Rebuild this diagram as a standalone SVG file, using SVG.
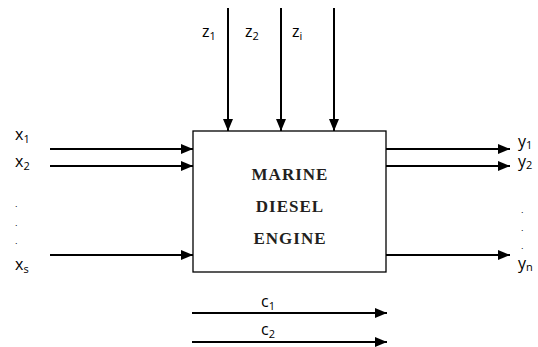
<svg xmlns="http://www.w3.org/2000/svg" width="538" height="347" viewBox="0 0 538 347">
<style>
.lbl{font-family:"Open Sans","Liberation Sans",sans-serif;font-size:16px;fill:#000}
.sub{font-size:11px}
.dot{font-family:"Liberation Sans",sans-serif;font-size:9px;fill:#000}
.eng{font-family:"Liberation Serif",serif;font-size:17px;font-weight:bold;fill:#231f20;letter-spacing:1px}
.ar{stroke:#000;stroke-width:2;fill:none;marker-end:url(#ah)}
</style>
<defs>
<marker id="ah" viewBox="0 0 12 10" refX="12" refY="5" markerWidth="12" markerHeight="10" markerUnits="userSpaceOnUse" orient="auto">
<path d="M0,0 L12,5 L0,10 Z" fill="#000"/>
</marker>
</defs>
<g id="connectors">
<line class="ar" x1="50" y1="149" x2="193" y2="149"/>
<line class="ar" x1="50" y1="166" x2="193" y2="166"/>
<line class="ar" x1="50" y1="255" x2="193" y2="255"/>
<line class="ar" x1="386" y1="149" x2="510" y2="149"/>
<line class="ar" x1="386" y1="166" x2="510" y2="166"/>
<line class="ar" x1="386" y1="255" x2="510" y2="255"/>
<line class="ar" x1="228" y1="8" x2="228" y2="131"/>
<line class="ar" x1="281" y1="8" x2="281" y2="131"/>
<line class="ar" x1="334" y1="8" x2="334" y2="131"/>
<line class="ar" x1="192" y1="313" x2="387" y2="313"/>
<line class="ar" x1="192" y1="342" x2="387" y2="342"/>
</g>
<g id="engine">
<rect x="193" y="131" width="193" height="141" fill="#fff" stroke="#000" stroke-width="1.3"/>
<text class="eng" x="290" y="180" text-anchor="middle">MARINE</text>
<text class="eng" x="290" y="212" text-anchor="middle">DIESEL</text>
<text class="eng" x="290" y="244" text-anchor="middle">ENGINE</text>
</g>
<g id="labels">
<text class="lbl" x="15" y="140">x<tspan class="sub" dy="3">1</tspan></text>
<text class="lbl" x="15" y="167">x<tspan class="sub" dy="3">2</tspan></text>
<text class="dot" x="15" y="207">.</text>
<text class="dot" x="15" y="226">.</text>
<text class="dot" x="15" y="244">.</text>
<text class="lbl" x="15" y="270">x<tspan class="sub" dy="3">s</tspan></text>
<text class="lbl" x="518" y="147">y<tspan class="sub" dy="2">1</tspan></text>
<text class="lbl" x="518" y="167">y<tspan class="sub" dy="2">2</tspan></text>
<text class="dot" x="521" y="213">.</text>
<text class="dot" x="521" y="231">.</text>
<text class="dot" x="521" y="249">.</text>
<text class="lbl" x="518" y="269">y<tspan class="sub" dy="2">n</tspan></text>
<text class="lbl" x="202" y="37">z<tspan class="sub" dy="3">1</tspan></text>
<text class="lbl" x="245" y="37">z<tspan class="sub" dy="3">2</tspan></text>
<text class="lbl" x="292" y="37">z<tspan class="sub" dy="3">i</tspan></text>
<text class="lbl" x="261" y="307">c<tspan class="sub" dy="3">1</tspan></text>
<text class="lbl" x="261" y="335">c<tspan class="sub" dy="3">2</tspan></text>
</g>
</svg>
